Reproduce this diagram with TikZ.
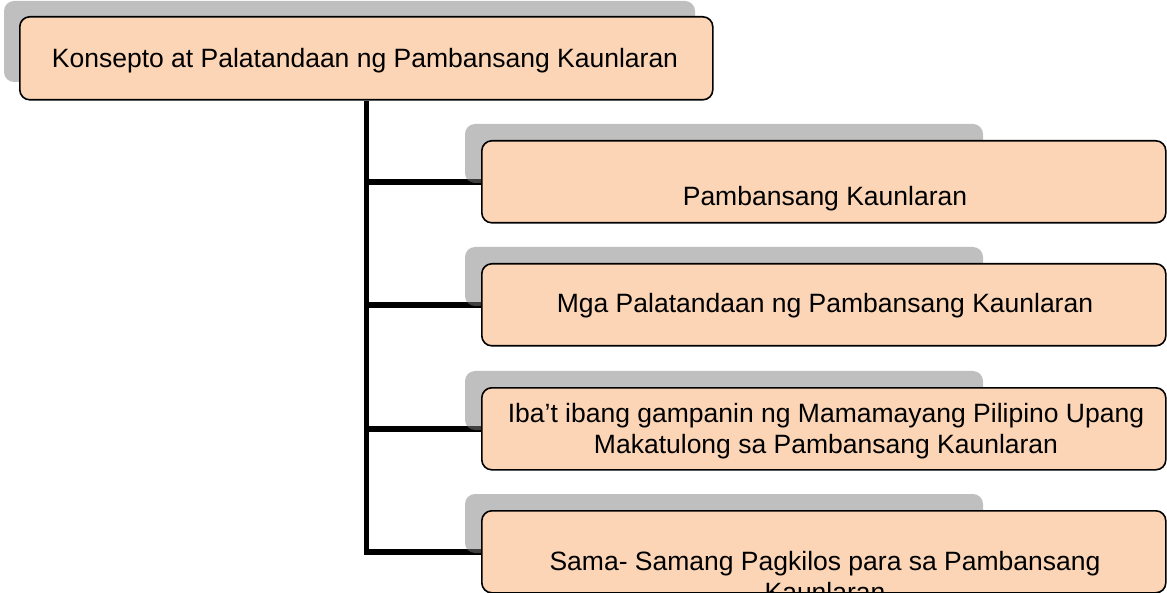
\documentclass[tikz,border=0pt]{standalone}
\usepackage{fontspec}
\setmainfont{Liberation Sans}
\usetikzlibrary{backgrounds}
\definecolor{peach}{RGB}{251,213,181}
\begin{document}
\begin{tikzpicture}[x=1pt,y=-1pt,
  box/.style={draw=black,line width=1.6pt,fill=peach,rounded corners=10pt,inner sep=0pt},
  shadowbox/.style={fill=black!50,fill opacity=0.5,rounded corners=10pt},
  conn/.style={line width=5.5pt,line join=miter},
  lbl/.style={font=\fontsize{26.5}{31}\selectfont,align=center,inner sep=0pt,anchor=base}]
\useasboundingbox (0,0) rectangle (1167,593);
% boxes
\node[box,minimum width=693pt,minimum height=83pt,anchor=north west] (top) at (19,16) {};
\node[box,minimum width=684pt,minimum height=82pt,anchor=north west] (c1) at (481,140) {};
\node[box,minimum width=684pt,minimum height=82pt,anchor=north west] (c2) at (481,263) {};
\node[box,minimum width=684pt,minimum height=82pt,anchor=north west] (c3) at (481,387) {};
\node[box,minimum width=684pt,minimum height=82pt,anchor=north west] (c4) at (481,510) {};
% labels
\node[lbl] (t0) at (365,68) {Konsepto at Palatandaan ng Pambansang Kaunlaran};
\node[lbl] (t1) at (825,206) {Pambansang Kaunlaran};
\node[lbl] (t2) at (825,313) {Mga Palatandaan ng Pambansang Kaunlaran};
\node[lbl] (t3) at (826,453) {Iba’t ibang gampanin ng Mamamayang Pilipino Upang\\Makatulong sa Pambansang Kaunlaran};
\node[lbl] (t4) at (825,601) {Sama- Samang Pagkilos para sa Pambansang\\Kaunlaran};
\begin{scope}[on background layer]
  \draw[conn] (top.south) |- (c4.west);
  \draw[conn] (top.south |- c1.west) -- (c1.west);
  \draw[conn] (top.south |- c2.west) -- (c2.west);
  \draw[conn] (top.south |- c3.west) -- (c3.west);
  \fill[shadowbox] (4,1) rectangle (695,82);
  \fill[shadowbox] (465,124) rectangle (983,183);
  \fill[shadowbox] (465,247) rectangle (983,306);
  \fill[shadowbox] (465,371) rectangle (983,430);
  \fill[shadowbox] (465,494) rectangle (983,553);
\end{scope}
\end{tikzpicture}
\end{document}
